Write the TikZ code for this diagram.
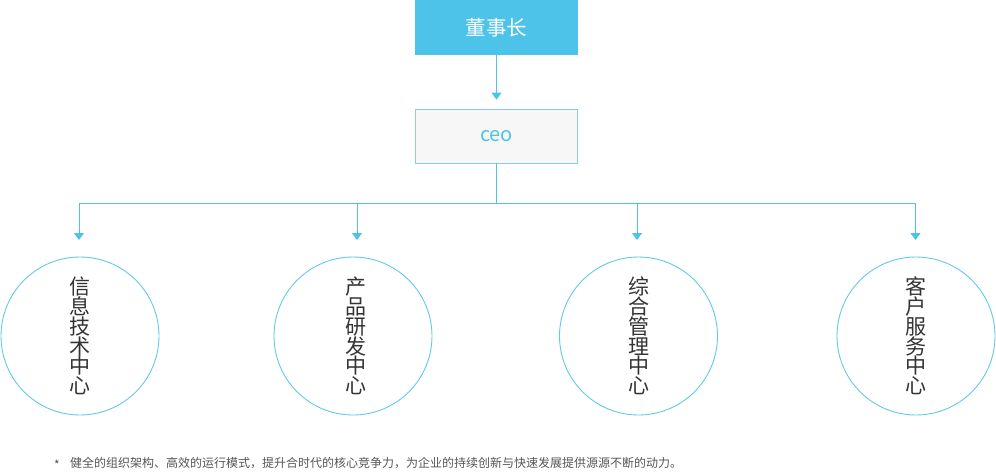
\documentclass[tikz,border=0pt]{standalone}
\usepackage{fontspec}
\setmainfont{Noto Sans CJK SC}
\usetikzlibrary{arrows.meta}
\definecolor{skyblue}{HTML}{4DC3EA}
\definecolor{ringblue}{HTML}{62C8EC}
\definecolor{boxline}{HTML}{8CCBE2}
\definecolor{boxfill}{HTML}{F7F7F7}
\definecolor{darktext}{HTML}{333333}
\definecolor{notetext}{HTML}{555555}
\tikzset{
  topbox/.style={fill=skyblue, draw=none, minimum width=163pt, minimum height=55pt, inner sep=0pt, text=white, font=\fontsize{20.5}{22}\selectfont},
  ceobox/.style={fill=boxfill, draw=boxline, line width=0.8pt, minimum width=162pt, minimum height=54pt, inner sep=0pt, text=skyblue, font=\fontsize{20}{22}\selectfont},
  center/.style={circle, draw=ringblue, line width=0.9pt, minimum size=158pt, inner sep=0pt, text=darktext, align=center, font=\fontsize{21}{19.8}\selectfont},
  link/.style={draw=skyblue, line width=0.9pt},
  arr/.style={link, -{Triangle[width=10pt,length=7pt]}},
  note/.style={anchor=west, inner sep=0pt, text=notetext, font=\fontsize{12}{14}\selectfont}
}
\begin{document}
\begin{tikzpicture}[x=1pt,y=-1pt]
\useasboundingbox (0,0) rectangle (996,472);
\node[topbox] (chair) at (496.5,27.5) {董事长};
\node[ceobox] (ceo) at (496.5,136) {ceo};
\node[center] (c1) at (80,336) {信\\息\\技\\术\\中\\心};
\node[center] (c2) at (353,336) {\hspace*{5pt}产\\\hspace*{5pt}品\\\hspace*{5pt}研\\\hspace*{5pt}发\\\hspace*{5pt}中\\\hspace*{5pt}心};
\node[center] (c3) at (638.5,336) {综\\合\\管\\理\\中\\心};
\node[center] (c4) at (916,336) {客\\户\\服\\务\\中\\心};
\coordinate (bus) at (496.5,203);
\coordinate (j1) at (79,203);
\coordinate (j2) at (357,203);
\coordinate (j3) at (637,203);
\coordinate (j4) at (915.5,203);
\coordinate (e1) at (79,240);
\coordinate (e2) at (357,240);
\coordinate (e3) at (637,240);
\coordinate (e4) at (915.5,240);
\draw[arr] (chair.south) -- ([yshift=9pt]ceo.north);
\draw[link] (ceo.south) -- (bus);
\draw[link] (j1) -- (j4);
\draw[arr] (j1) -- (e1);
\draw[arr] (j2) -- (e2);
\draw[arr] (j3) -- (e3);
\draw[arr] (j4) -- (e4);
\node[note] (star) at (54,465) {*};
\node[note] (notetext) at (70,463) {健全的组织架构、高效的运行模式，提升合时代的核心竞争力，为企业的持续创新与快速发展提供源源不断的动力。};
\end{tikzpicture}
\end{document}
